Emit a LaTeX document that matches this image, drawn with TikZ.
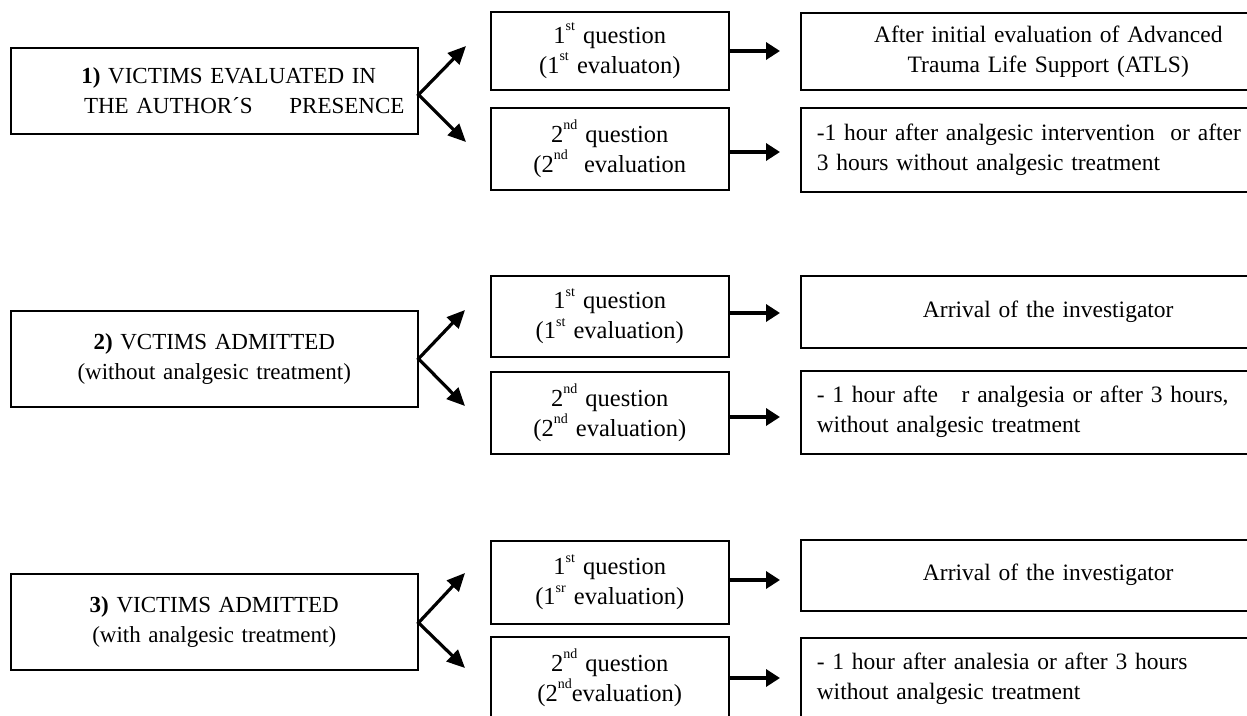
\documentclass[tikz,border=0pt]{standalone}
\usepackage{fontspec}
\setmainfont{Liberation Serif}
\usetikzlibrary{arrows.meta}
\newcommand{\supx}[1]{\raisebox{0.52em}{\fontsize{14}{14}\selectfont #1}}
\begin{document}
\begin{tikzpicture}[x=1pt,y=-1pt,
 every node/.style={font=\fontsize{23.5}{30}\selectfont},
 box/.style={draw, line width=1.5pt, inner ysep=0pt, anchor=north west},
 lbox/.style={box, inner xsep=0pt, text width=407pt, minimum width=407pt, align=center, font=\fontsize{23}{30}\selectfont},
 mbox/.style={box, inner xsep=0pt, text width=238pt, minimum width=238pt, align=center, font=\fontsize{24.5}{30}\selectfont},
 rbox/.style={box, inner xsep=16pt, text width=463pt, minimum width=495pt},
 fan/.style={line width=3.2pt, line join=miter, {Triangle[length=18pt,width=16pt]}-{Triangle[length=18pt,width=16pt]}},
 hor/.style={line width=3.4pt, -{Triangle[length=14pt,width=17pt]}}]
\useasboundingbox (0,0) rectangle (1247,715);

% left boxes
\node[lbox, minimum height=86pt] (L1) at (10,47) {\hspace*{29pt}\textbf{1)} VICTIMS EVALUATED IN\\\hspace*{60pt}THE AUTHOR´S\hspace{1.6em}PRESENCE};
\node[lbox, minimum height=96pt] (L2) at (10,310) {\textbf{2)} VCTIMS ADMITTED\hspace*{20pt}\\(without analgesic treatment)};
\node[lbox, minimum height=96pt] (L3) at (10,573) {\textbf{3)} VICTIMS ADMITTED\hspace*{12pt}\\(with analgesic treatment)};

% middle boxes
\node[mbox, minimum height=78pt] (M1a) at (490,11) {1\supx{st} question\\(1\supx{st} evaluaton)};
\node[mbox, minimum height=82pt] (M1b) at (490,107) {2\supx{nd} question\\(2\supx{nd}\ \ evaluation};
\node[mbox, minimum height=81pt] (M2a) at (490,275) {1\supx{st} question\\(1\supx{st} evaluation)};
\node[mbox, minimum height=82pt] (M2b) at (490,371) {2\supx{nd} question\\(2\supx{nd} evaluation)};
\node[mbox, minimum height=83pt] (M3a) at (490,540) {1\supx{st} question\\(1\supx{sr} evaluation)};
\node[mbox, minimum height=82pt] (M3b) at (490,636) {2\supx{nd} question\\(2\supx{nd}evaluation)};

% right boxes
\node[rbox, align=center, minimum height=77pt] (R1a) at (800,12) {After initial evaluation of Advanced\\Trauma Life Support (ATLS)};
\node[rbox, align=left, minimum height=84pt] (R1b) at (800,107) {-1 hour after analgesic intervention\ \ or after\\3 hours without analgesic treatment};
\node[rbox, align=center, minimum height=72pt] (R2a) at (800,275) {Arrival of the investigator};
\node[rbox, align=left, minimum height=83pt] (R2b) at (800,370) {- 1 hour afte\hspace{1em}r analgesia or after 3 hours,\\without analgesic treatment};
\node[rbox, align=center, minimum height=71pt] (R3a) at (800,539) {Arrival of the investigator};
\node[rbox, align=left, minimum height=82pt] (R3b) at (800,637) {- 1 hour after analesia or after 3 hours\\without analgesic treatment};

% fan arrows
\coordinate (f1u) at (466,46); \coordinate (f1d) at (466,142);
\coordinate (f2u) at (465,310); \coordinate (f2d) at (465,406);
\coordinate (f3u) at (465,573); \coordinate (f3d) at (465,668);
\draw[fan] (f1u) -- ([yshift=-4pt]L1.east) -- (f1d);
\draw[fan] (f2u) -- (L2.east) -- (f2d);
\draw[fan] (f3u) -- ([yshift=-1pt]L3.east) -- (f3d);

% horizontal arrows
\coordinate (h1a) at (780,51);  \coordinate (h1b) at (780,152);
\coordinate (h2a) at (780,313); \coordinate (h2b) at (780,417);
\coordinate (h3a) at (780,580); \coordinate (h3b) at (780,678);
\draw[hor] (M1a.east |- h1a) -- (h1a);
\draw[hor] (M1b.east |- h1b) -- (h1b);
\draw[hor] (M2a.east |- h2a) -- (h2a);
\draw[hor] (M2b.east |- h2b) -- (h2b);
\draw[hor] (M3a.east |- h3a) -- (h3a);
\draw[hor] (M3b.east |- h3b) -- (h3b);
\end{tikzpicture}
\end{document}
